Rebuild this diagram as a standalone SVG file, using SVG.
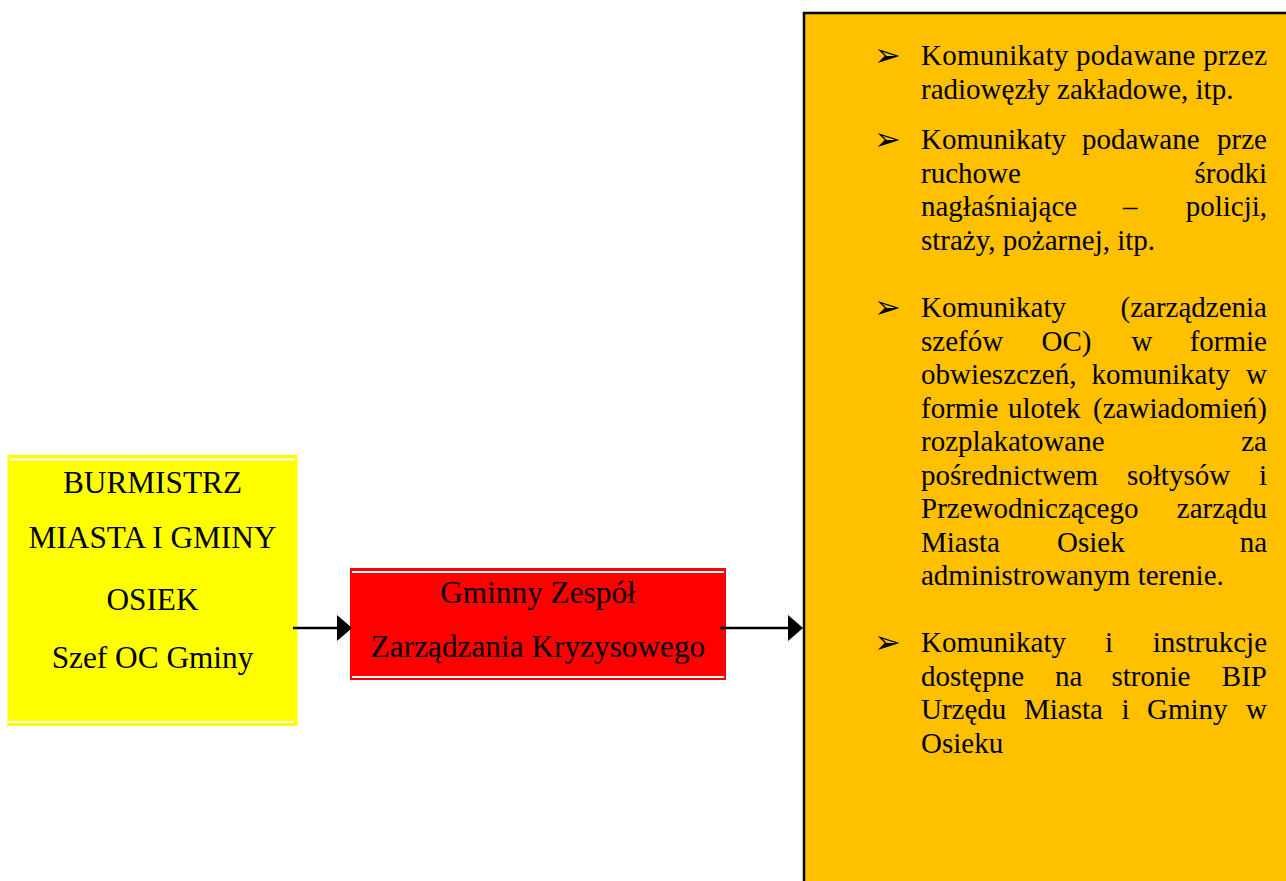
<svg xmlns="http://www.w3.org/2000/svg" width="1286" height="881" viewBox="0 0 1286 881">
<style>
  .t { font-family: "Liberation Serif", "Times New Roman", serif; fill: #000; }
  .big { font-size: 31.3px; text-anchor: middle; }
  .li { font-size: 29px; }
  .e { text-anchor: end; }
  .bul { font-family: "DejaVu Sans", sans-serif; font-size: 32px; font-weight: bold; fill: #000; }
  .wl { stroke: #fff; stroke-width: 2; }
  .conn { stroke: #000; stroke-width: 2.5; fill: none; }
</style>
<defs>
  <marker id="ah" markerUnits="userSpaceOnUse" markerWidth="16" markerHeight="28" viewBox="0 0 16 28" refX="3" refY="13" orient="auto">
    <path d="M0,0 L15,13 L0,26 Z" fill="#000"/>
  </marker>
</defs>
<rect width="1286" height="881" fill="#fff"/>

<g id="burmistrz">
  <rect x="7.5" y="455" width="290" height="271" fill="#FFFF00"/>
  <line class="wl" x1="10" y1="459.5" x2="295" y2="459.5"/>
  <line class="wl" x1="8" y1="722" x2="294" y2="722"/>
  <text class="t big" x="152.5" y="493">BURMISTRZ</text>
  <text class="t big" x="152.5" y="548">MIASTA I GMINY</text>
  <text class="t big" x="152.5" y="610">OSIEK</text>
  <text class="t big" x="152.5" y="668">Szef OC Gminy</text>
</g>

<g id="gzzk">
  <rect x="350" y="568" width="376" height="112" fill="#FF0000"/>
  <line class="wl" x1="352" y1="572" x2="724" y2="572"/>
  <line class="wl" x1="352" y1="677" x2="724" y2="677"/>
  <text class="t big" x="538" y="603">Gminny Zespół</text>
  <text class="t big" x="538" y="657">Zarządzania Kryzysowego</text>
</g>

<g id="komunikaty">
  <rect x="804" y="13" width="500" height="900" fill="#FFC000" stroke="#000" stroke-width="2.5"/>
  <text class="bul" x="874" y="66">➢</text>
  <text class="t li" x="921" y="65" textLength="346" lengthAdjust="spacing">Komunikaty podawane przez</text>
  <text class="t li" x="921" y="98.5">radiowęzły zakładowe, itp.</text>

  <text class="bul" x="874" y="150">➢</text>
  <text class="t li" y="149"><tspan x="921">Komunikaty</tspan><tspan x="1082">podawane</tspan><tspan class="e" x="1267">prze</tspan></text>
  <text class="t li" y="182.5"><tspan x="921">ruchowe</tspan><tspan class="e" x="1267">środki</tspan></text>
  <text class="t li" y="216"><tspan x="921">nagłaśniające</tspan><tspan x="1123">–</tspan><tspan class="e" x="1267">policji,</tspan></text>
  <text class="t li" x="921" y="249.5">straży, pożarnej, itp.</text>

  <text class="bul" x="874" y="318">➢</text>
  <text class="t li" y="317"><tspan x="921">Komunikaty</tspan><tspan class="e" x="1267">(zarządzenia</tspan></text>
  <text class="t li" y="350.5"><tspan x="921">szefów</tspan><tspan x="1041.5">OC)</tspan><tspan x="1131.5">w</tspan><tspan class="e" x="1267">formie</tspan></text>
  <text class="t li" y="384"><tspan x="921">obwieszczeń,</tspan><tspan x="1091.5">komunikaty</tspan><tspan class="e" x="1267">w</tspan></text>
  <text class="t li" y="417.5"><tspan x="921">formie</tspan><tspan x="1008">ulotek</tspan><tspan class="e" x="1267">(zawiadomień)</tspan></text>
  <text class="t li" y="451"><tspan x="921">rozplakatowane</tspan><tspan class="e" x="1267">za</tspan></text>
  <text class="t li" y="484.5"><tspan x="921">pośrednictwem</tspan><tspan x="1127">sołtysów</tspan><tspan class="e" x="1267">i</tspan></text>
  <text class="t li" y="518"><tspan x="921">Przewodniczącego</tspan><tspan class="e" x="1267">zarządu</tspan></text>
  <text class="t li" y="551.5"><tspan x="921">Miasta</tspan><tspan x="1057">Osiek</tspan><tspan class="e" x="1267">na</tspan></text>
  <text class="t li" x="921" y="585">administrowanym terenie.</text>

  <text class="bul" x="874" y="653">➢</text>
  <text class="t li" y="652"><tspan x="921">Komunikaty</tspan><tspan x="1105">i</tspan><tspan class="e" x="1267">instrukcje</tspan></text>
  <text class="t li" y="685.5"><tspan x="921">dostępne</tspan><tspan x="1055">na</tspan><tspan x="1111.5">stronie</tspan><tspan class="e" x="1267">BIP</tspan></text>
  <text class="t li" y="719"><tspan x="921">Urzędu</tspan><tspan x="1024">Miasta</tspan><tspan x="1121.5">i</tspan><tspan x="1147">Gminy</tspan><tspan class="e" x="1267">w</tspan></text>
  <text class="t li" x="921" y="752.5">Osieku</text>
</g>

<g id="connectors">
  <line class="conn" x1="293" y1="628" x2="340" y2="628" marker-end="url(#ah)"/>
  <line class="conn" x1="720" y1="628" x2="791" y2="628" marker-end="url(#ah)"/>
</g>
</svg>
